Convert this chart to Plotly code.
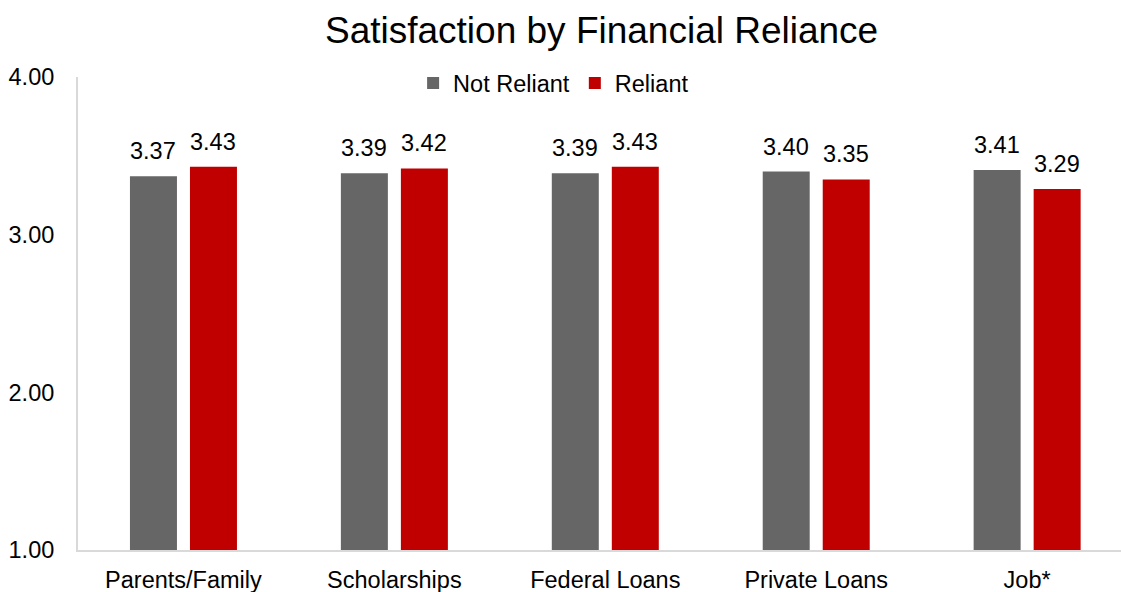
import plotly.graph_objects as go

categories = ["Parents/Family", "Scholarships", "Federal Loans", "Private Loans", "Job*"]
not_reliant = [3.37, 3.39, 3.39, 3.40, 3.41]
reliant = [3.43, 3.42, 3.43, 3.35, 3.29]
y_ticks = [1, 2, 3, 4]
y_tick_labels = ["1.00", "2.00", "3.00", "4.00"]

FONT = "Liberation Sans, Arial, sans-serif"
FS = 23.5

fig = go.Figure()
fig.add_trace(go.Bar(
    name="Not Reliant", x=categories, y=not_reliant,
    marker=dict(color="#666666", line=dict(width=0)),
))
fig.add_trace(go.Bar(
    name="Reliant", x=categories, y=reliant,
    marker=dict(color="#C00000", line=dict(width=0)),
))

# value labels above each bar
for series, shift in ((not_reliant, -30), (reliant, 30)):
    for cat, v in zip(categories, series):
        fig.add_annotation(x=cat, y=v, text=f"{v:.2f}", showarrow=False,
                           xshift=shift, yshift=10, yanchor="bottom", xanchor="center",
                           font=dict(size=FS, color="#000000", family=FONT))

fig.update_layout(
    width=1121, height=592,
    margin=dict(l=78, r=0, t=77, b=42),
    paper_bgcolor="white", plot_bgcolor="white",
    font=dict(family=FONT, size=FS, color="#000000"),
    title=dict(text="Satisfaction by Financial Reliance", font=dict(size=37, color="#000000", family=FONT),
               x=0.502, xref="paper", xanchor="center", y=0.949, yref="container", yanchor="middle"),
    barmode="group", bargap=0.431, bargroupgap=0.217,
    showlegend=True,
    legend=dict(orientation="h", x=0.456, xanchor="center", y=0.987, yanchor="middle",
                font=dict(size=FS, family=FONT), bgcolor="rgba(0,0,0,0)", itemwidth=30,
                traceorder="normal"),
)
fig.update_xaxes(range=[-0.5, 4.445], showline=True, linecolor="#d9d9d9", linewidth=2,
                 showgrid=False, ticks="", tickfont=dict(size=FS, family=FONT), ticklabelstandoff=8,
                 zeroline=False)
fig.update_yaxes(range=[1, 4], tickvals=y_ticks, ticktext=y_tick_labels, showline=True,
                 linecolor="#d9d9d9", linewidth=2, showgrid=False, ticks="", zeroline=False,
                 tickfont=dict(size=FS, family=FONT), ticklabelstandoff=17)

fig.write_html("out.html", config={"displayModeBar": False},
               post_script="document.body.style.margin='0';document.body.style.overflow='hidden';")
